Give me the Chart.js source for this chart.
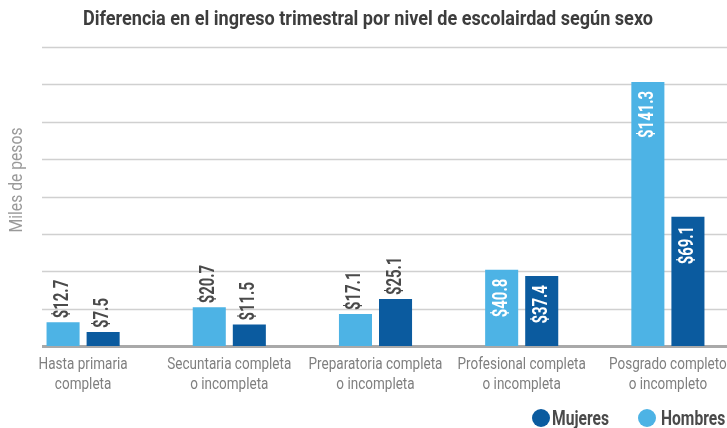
<!DOCTYPE html>
<html>
<head>
<meta charset="utf-8">
<script src="https://cdn.jsdelivr.net/npm/chart.js@4/dist/chart.umd.min.js"></script>
<style>
  html, body { margin: 0; padding: 0; background: #fff; overflow: hidden; }
  #wrap { width: 760px; height: 428px; }
</style>
</head>
<body>
<div id="wrap"><canvas id="c" width="760" height="428"></canvas></div>
<script>
// datos
const categorias = [
  ['Hasta primaria', 'completa'],
  ['Secuntaria completa', 'o incompleta'],
  ['Preparatoria completa', 'o incompleta'],
  ['Profesional completa', 'o incompleta'],
  ['Posgrado completo', 'o incompleto']
];
const hombres = [12.7, 20.7, 17.1, 40.8, 141.3];
const mujeres = [7.5, 11.5, 25.1, 37.4, 69.1];
const titulo = 'Diferencia en el ingreso trimestral por nivel de escolairdad según sexo';
const tituloEje = 'Miles de pesos';

const FONT = "Roboto, 'DejaVu Sans Condensed', sans-serif";
const AZUL_CLARO = '#4db3e5';
const AZUL_OSCURO = '#0b5b9f';

// la tipografía original es muy condensada: se comprime en horizontal
function anchoX(ctx, font, muestra, ancho) {
  ctx.font = font;
  return ancho / ctx.measureText(muestra).width;
}

function texto(ctx, str, x, y, font, sx, align, color, rot) {
  ctx.save();
  ctx.font = font;
  ctx.fillStyle = color;
  ctx.textAlign = align;
  ctx.translate(x, y);
  if (rot) ctx.rotate(rot);
  ctx.scale(sx, 1);
  ctx.fillText(str, 0, 0);
  ctx.restore();
}

const gridPlugin = {
  id: 'grid',
  beforeDatasetsDraw(chart) {
    const y = chart.scales.y;
    const ctx = chart.ctx;
    ctx.save();
    y.ticks.forEach(t => {
      const py = Math.round(y.getPixelForValue(t.value)) + 0.5;
      ctx.beginPath();
      ctx.strokeStyle = t.value === 0 ? '#a9a9a9' : '#d0d0d0';
      ctx.lineWidth = t.value === 0 ? 3 : 1.5;
      ctx.moveTo(42, py);
      ctx.lineTo(chart.width, py);
      ctx.stroke();
    });
    ctx.restore();
  }
};

const textos = {
  id: 'textos',
  afterDraw(chart) {
    const ctx = chart.ctx;
    ctx.textBaseline = 'alphabetic';

    // título
    let f = 'bold 21px ' + FONT;
    texto(ctx, titulo, 368, 25, f, anchoX(ctx, f, titulo, 570), 'center', '#3d3d3d');

    // eje y
    f = '18px ' + FONT;
    texto(ctx, tituloEje, 22, 180, f, anchoX(ctx, f, tituloEje, 105), 'center', '#9a9a9a', -Math.PI / 2);

    // categorías
    f = '17px ' + FONT;
    const sx = anchoX(ctx, f, 'Hasta primaria', 89);
    const x = chart.scales.x;
    categorias.forEach((lineas, i) => {
      const px = x.getPixelForValue(i);
      lineas.forEach((l, k) => texto(ctx, l, px, 369 + k * 20, f, sx, 'center', '#7f7f7f'));
    });

    // leyenda
    f = 'bold 20px ' + FONT;
    const sl = anchoX(ctx, f, 'Mujeres', 57);
    [
      { t: 'Mujeres', c: AZUL_OSCURO, cx: 541, tx: 552 },
      { t: 'Hombres', c: AZUL_CLARO, cx: 647, tx: 661 }
    ].forEach(it => {
      ctx.beginPath();
      ctx.fillStyle = it.c;
      ctx.arc(it.cx, 418, 9, 0, Math.PI * 2);
      ctx.fill();
      texto(ctx, it.t, it.tx, 425, f, sl, 'left', '#4a4a4a');
    });
  }
};

const etiquetas = {
  id: 'etiquetas',
  afterDatasetsDraw(chart) {
    const ctx = chart.ctx;
    const f = 'bold 20px ' + FONT;
    const sv = anchoX(ctx, f, '$141.3', 47);
    ctx.textBaseline = 'middle';
    chart.data.datasets.forEach((ds, i) => {
      chart.getDatasetMeta(i).data.forEach((bar, j) => {
        const v = ds.data[j];
        const txt = '$' + v.toFixed(1);
        if (v > 30) {
          texto(ctx, txt, bar.x, bar.y + 9, f, sv, 'right', '#ffffff', -Math.PI / 2);
        } else {
          texto(ctx, txt, bar.x, bar.y - 4, f, sv, 'left', '#4a4a4a', -Math.PI / 2);
        }
      });
    });
    ctx.textBaseline = 'alphabetic';
  }
};

new Chart(document.getElementById('c'), {
  type: 'bar',
  data: {
    labels: categorias,
    datasets: [
      { label: 'Hombres', data: hombres, backgroundColor: AZUL_CLARO },
      { label: 'Mujeres', data: mujeres, backgroundColor: AZUL_OSCURO }
    ]
  },
  options: {
    responsive: false,
    animation: false,
    categoryPercentage: 0.548,
    barPercentage: 0.825,
    layout: { padding: { left: 10, right: 19, top: 47, bottom: 82 } },
    plugins: {
      legend: { display: false },
      tooltip: { enabled: false }
    },
    scales: {
      x: { display: false },
      y: { display: false, min: 0, max: 160, ticks: { stepSize: 20 } }
    }
  },
  plugins: [gridPlugin, etiquetas, textos]
});
</script>
</body>
</html>
